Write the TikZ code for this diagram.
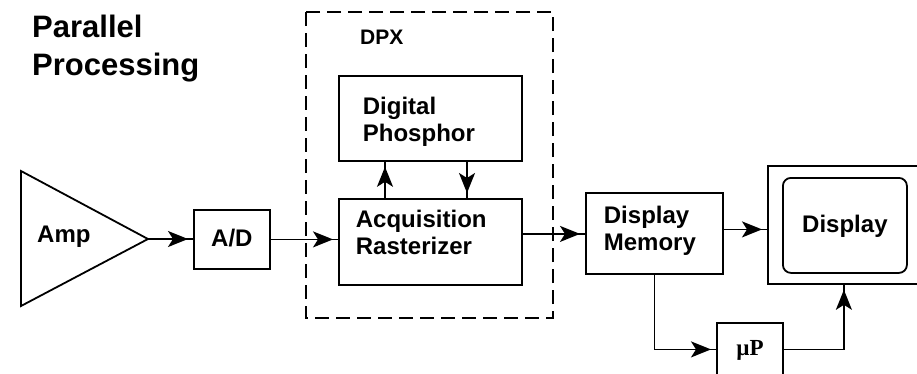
\documentclass[tikz,border=0pt]{standalone}
\usepackage{fontspec}
\setmainfont{Liberation Sans}
\newfontfamily\mufont{Liberation Serif}
\usetikzlibrary{arrows.meta,decorations.markings}

\begin{document}
\begin{tikzpicture}[x=1pt,y=-1pt,
  block/.style={draw,line width=1.8pt,inner ysep=0pt,anchor=north west,align=left,
    font=\bfseries\fontsize{24}{27}\selectfont},
  tek/.style={line width=1.8pt,postaction={decorate},
    decoration={markings,mark=at position -5pt with {\arrow{Stealth[length=20pt,width=16pt,inset=5pt]}}}},
  dpxframe/.style={line width=1.6pt,dash pattern=on 14pt off 7pt}]
\useasboundingbox (0,0) rectangle (917,373);
\clip (0,0) rectangle (917,373);
% title
\node[anchor=base west,inner sep=0pt,text width=220pt,align=left,font=\bfseries\fontsize{31}{38}\selectfont] (title) at (32,37) {Parallel\\Processing};

% amplifier
\draw[line width=1.8pt] (21,171) -- (148,239) -- (21,306) -- cycle;
\coordinate (ampout) at (148,239);
\node[anchor=base west,inner sep=0pt,font=\bfseries\fontsize{24}{27}\selectfont] (amp) at (37,242) {Amp};
\node[block,inner xsep=0pt,minimum width=76pt,text height=37pt,text depth=22pt,align=center] (ad) at (193,209) {A/D};

% DPX
\draw[dpxframe] (306,12) rectangle (553,318);
\node[anchor=base west,inner sep=0pt,font=\bfseries\fontsize{21}{24}\selectfont] (dpx) at (360,44) {DPX};
\node[block,inner xsep=24pt,text width=135pt,text height=39pt,text depth=46pt] (phos) at (338,75) {Digital\\Phosphor};
\node[block,inner xsep=17pt,text width=149pt,text height=29pt,text depth=57pt] (acq) at (338,198) {Acquisition\\Rasterizer};

% display side
\node[block,inner xsep=18pt,text width=101pt,text height=31pt,text depth=50pt] (mem) at (585,192) {Display\\Memory};
\node[block,minimum width=152pt,minimum height=118pt] (disp) at (767,165) {};
\node[block,rounded corners=8pt,inner xsep=0pt,minimum width=124pt,text height=55pt,text depth=40pt,align=center] (screen) at (782,177) {Display};
\node[block,inner xsep=0pt,minimum width=66pt,text height=33pt,text depth=20pt,align=center,
  font=\mufont\bfseries\fontsize{23}{26}\selectfont] (up) at (716,322) {µP};

% connectors
\draw[tek] (ampout) -- (ampout -| ad.west);
\draw[tek] (ad.east) -- (ad.east -| acq.west);
\draw[tek] ([xshift=47pt]acq.north west) -- ([xshift=47pt]phos.south west);
\draw[tek] ([xshift=129pt]phos.south west) -- ([xshift=129pt]acq.north west);
\draw[tek] ([yshift=8pt]acq.east) -- ([yshift=8pt]acq.east -| mem.west);
\draw[tek] ([yshift=4pt]mem.east) -- ([yshift=4pt]mem.east -| disp.west);
\draw[tek] (mem.south) |- (up.west);
\draw[tek] (up.east) -| (disp.south);
\end{tikzpicture}
\end{document}
